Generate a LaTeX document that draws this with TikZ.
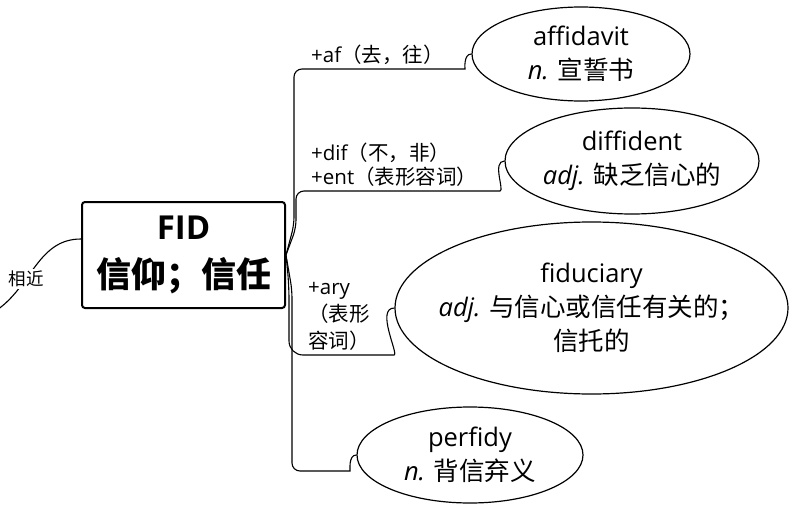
\documentclass[tikz,border=0pt]{standalone}
\usepackage{fontspec}
\setmainfont{Open Sans}
\newfontfamily\cjk{Noto Sans CJK SC}
\usetikzlibrary{shapes.geometric,positioning}

\begin{document}
\begin{tikzpicture}[x=1pt,y=-1pt,every node/.style={inner sep=0pt},
  word/.style={ellipse,draw,line width=1.2pt,inner sep=-40pt,align=center,font=\fontsize{25.5}{34}\selectfont},
  root/.style={draw,line width=2pt,rounded corners=3pt,minimum width=203pt,minimum height=106pt,align=center},
  branch/.style={line width=1.1pt},
  affix/.style={align=left,anchor=south west,font=\fontsize{20.5}{24}\selectfont}]

  \useasboundingbox (0,0) rectangle (789,505);

  % root
  \node[root,font=\fontsize{35}{48}\selectfont\bfseries] (fid) at (183.5,255)
    {{\fontsize{33}{40}\selectfont FID}\\{\cjk 信仰；信任}};

  % related
  \coordinate (far) at (-3,310);
  \draw[branch] (far) to[out=35,in=180]
    node[pos=0.35,fill=white,inner sep=2pt,font=\fontsize{17.5}{20}\selectfont] (rel) {\cjk 相近}
    ([yshift=16pt]fid.west);

  % words
  \node[word,minimum width=218pt,minimum height=94pt] (affidavit) at (581,54)
    {affidavit\\\textit{n.} {\cjk 宣誓书}};
  \node[word,minimum width=254pt,minimum height=106pt] (diffident) at (632,161)
    {diffident\\\textit{adj.} {\cjk 缺乏信心的}};
  \node[word,minimum width=393pt,minimum height=172pt] (fiduciary) at (591.5,308)
    {fiduciary\\\textit{adj.} {\cjk 与信心或信任有关的；}\\{\cjk 信托的}};
  \node[word,minimum width=226pt,minimum height=96pt] (perfidy) at (470,455)
    {perfidy\\\textit{n.} {\cjk 背信弃义}};

  % affixes
  \node[affix] (af) at (311,65) {+af{\cjk（去，往）}};
  \node[affix] (dif) at (311,187) {+dif{\cjk（不，非）}\\+ent{\cjk（表形容词）}};
  \node[affix,font=\fontsize{20.5}{27}\selectfont] (ary) at (308,351) {+ary\\{\cjk（表形}\\{\cjk 容词）}};

  % branches
  \draw[branch,rounded corners=8pt] (fid.east) -- (294,225) -- (294,69) -- (457,69)
    to[out=0,in=180] (affidavit.west);
  \draw[branch,rounded corners=8pt] (fid.east) -- (296,228) -- (296,191) -- (492,191)
    to[out=0,in=180] (diffident.west);
  \draw[branch,rounded corners=14pt] (fid.east) -- (289,285) -- (289,355) -- (380,355)
    to[out=0,in=180] (fiduciary.west);
  \draw[branch,rounded corners=8pt] (fid.east) -- (292,290) -- (292,471) -- (342,471)
    to[out=0,in=180] (perfidy.west);

\end{tikzpicture}
\end{document}
